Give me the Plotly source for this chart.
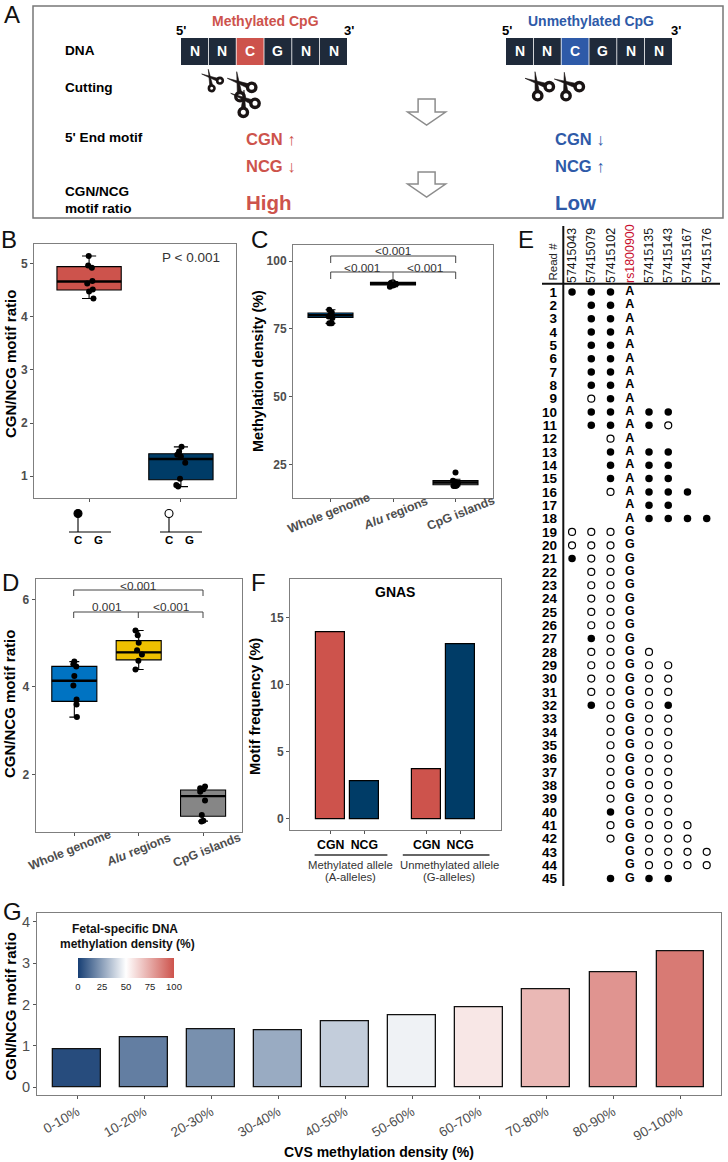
import plotly.graph_objects as go

W, H = 728, 1162
RED, NAVY, BLUE, YEL, GRY = "#CD534C", "#003C67", "#0073C2", "#EFC000", "#868686"
UBLUE = "#2E5AA8"
FONT = "Liberation Sans"
TICK = "#4d4d4d"

# ---- panel B
b_cats = [1, 2]
b_q1 = [4.51, 0.93]; b_med = [4.67, 1.32]; b_q3 = [4.95, 1.42]
b_lo = [4.35, 0.80]; b_hi = [5.15, 1.55]
b_pts_x = [[0.996, 0.99, 1.03, 1.036, 0.98, 1.04, 1.0, 1.047],
           [2.007, 1.98, 1.96, 2.0, 2.047, 1.99, 1.95, 1.97]]
b_pts_y = [[5.15, 4.97, 4.93, 4.68, 4.63, 4.52, 4.48, 4.35],
           [1.55, 1.46, 1.40, 1.37, 1.25, 0.95, 0.83, 0.80]]
# ---- panel C
c_cats = [1, 2, 3]
c_q1 = [79.2, 91.2, 17.5]; c_med = [80.0, 91.7, 18.3]; c_q3 = [80.8, 92.1, 19.0]
c_lo = [77.0, 90.5, 17.0]; c_hi = [82.0, 92.3, 19.5]
c_pts_x = [[0.98, 1.02, 1.0, 0.97, 1.03, 0.98, 1.02, 1.0],
           [1.95, 2.0, 2.02, 2.05, 1.97, 2.0, 1.98, 2.03],
           [3.0, 2.96, 3.0, 3.04, 3.0, 2.97, 3.0, 3.02]]
c_pts_y = [[82.0, 81.0, 80.2, 79.5, 79.0, 77.0, 77.0, 77.0],
           [90.5, 91.0, 91.2, 91.5, 92.0, 92.2, 91.8, 91.4],
           [22.0, 19.0, 18.5, 18.0, 17.5, 17.0, 17.0, 17.2]]
# ---- panel D
d_cats = [1, 2, 3]
d_q1 = [3.67, 4.62, 1.04]; d_med = [4.14, 4.79, 1.50]; d_q3 = [4.47, 5.06, 1.64]
d_lo = [3.31, 4.40, 0.93]; d_hi = [4.58, 5.29, 1.72]
d_pts_x = [[1.0, 0.985, 1.03, 1.0, 0.985, 1.035, 1.035, 1.04],
           [1.95, 1.985, 2.0, 1.975, 2.05, 1.995, 1.95],
           [3.03, 2.955, 3.005, 2.955, 3.03, 2.98, 3.005, 2.975]]
d_pts_y = [[4.58, 4.52, 4.47, 4.25, 4.03, 3.71, 3.60, 3.31],
           [5.29, 5.18, 5.01, 4.84, 4.74, 4.60, 4.40],
           [1.72, 1.68, 1.66, 1.60, 1.40, 1.07, 0.94, 0.92]]
region_labels = ["Whole genome", "<i>Alu</i> regions", "CpG islands"]
# ---- panel E
sites = ["57415043", "57415079", "57415102", '<span style="color:#c8102e">rs1800900</span>',
         "57415135", "57415143", "57415167", "57415176"]
reads = ["111A....", ".11A....", ".11A....", ".11A....", ".11A....", ".11A....",
         ".11A....", ".11A....", ".01A....", ".11A11..", ".11A10..", "..0A....", "..1A11..",
         "..1A11..", "..1A11..", "..0A111.", "...A11..", "...A1111",
         "000G....", "000G....", "100G....", ".00G....", ".00G....", ".00G....", ".00G....",
         ".00G....", ".10G....", ".00G0...", ".00G00..", ".00G00..", ".00G00..", ".10G01..",
         "..0G00..", "..0G00..", "..0G00..", "..0G00..", "..0G00..", "..0G00..", "..0G00..",
         "..1G00..", "..0G000.", "..0G000.", "...G0000", "...G0000", "..1G11.."]
# ---- panel F
f_x = [0.825, 1.175, 1.825, 2.175]
f_vals = [13.9, 2.8, 3.7, 13.0]
f_labels = ["CGN", "NCG", "CGN", "NCG"]
f_cols = [RED, NAVY, RED, NAVY]
# ---- panel G
g_cats = ["0-10%", "10-20%", "20-30%", "30-40%", "40-50%", "50-60%", "60-70%", "70-80%", "80-90%", "90-100%"]
g_vals = [0.92, 1.21, 1.39, 1.37, 1.60, 1.75, 1.93, 2.37, 2.78, 3.28]
g_fetal = [3.4, 16.4, 21, 28, 37, 46.5, 57, 70.6, 81, 88.7]


def X(p): return p / W
def Y(p): return 1 - p / H


shapes, annos, traces = [], [], []


def text(x, y, s, size=12, color="#000", bold=False, anchor="center", angle=0):
    annos.append(dict(x=X(x), y=Y(y), xref="paper", yref="paper", text=s, showarrow=False, xanchor=anchor,
                      yanchor="middle", textangle=angle,
                      font=dict(family=FONT, size=size, color=color, weight="bold" if bold else "normal"),
                      borderpad=0, borderwidth=0))


def line(x0, y0, x1, y1, color="#000", w=1.0):
    shapes.append(dict(type="line", xref="paper", yref="paper", x0=X(x0), y0=Y(y0), x1=X(x1), y1=Y(y1),
                       line=dict(color=color, width=w)))


def rect(x0, y0, x1, y1, fill="#fff", color="#000", w=1.0):
    shapes.append(dict(type="rect", xref="paper", yref="paper", x0=X(x0), y0=Y(y0), x1=X(x1), y1=Y(y1),
                       fillcolor=fill, line=dict(color=color, width=w)))


def circle(cx, cy, r, fill="#fff", color="#000", w=1.0):
    shapes.append(dict(type="circle", xref="paper", yref="paper", x0=X(cx - r), y0=Y(cy - r), x1=X(cx + r),
                       y1=Y(cy + r), fillcolor=fill, line=dict(color=color, width=w)))


def poly(pts, fill="#fff", color="#000", w=1.0):
    d = "M " + " L ".join(f"{X(a):.5f},{Y(b):.5f}" for a, b in pts) + " Z"
    shapes.append(dict(type="path", xref="paper", yref="paper", path=d, fillcolor=fill,
                       line=dict(color=color, width=w)))


def blade(tip, end, half):
    c = "#1a1414"
    dx, dy = end[0] - tip[0], end[1] - tip[1]
    n = (dx * dx + dy * dy) ** 0.5
    ox, oy = -dy / n * half, dx / n * half
    poly([tip, (end[0] + ox, end[1] + oy), (end[0] - ox, end[1] - oy)], c, c, 0.6)


def scissors(tip_a, tip_b, ring_a, ring_b, r=4.2, sw=3.4, half=2.6):
    c = "#1a1414"
    blade(tip_a, ring_b, half)
    blade(tip_b, ring_a, half)
    circle(ring_a[0], ring_a[1], r, "#fff", c, sw)
    circle(ring_b[0], ring_b[1], r, "#fff", c, sw)


def hollow_arrow(cx, y0, ym, y1):
    c = "#8c8c8c"
    poly([(cx - 8.5, y0), (cx + 8.5, y0), (cx + 8.5, ym), (cx + 19, ym), (cx, y1), (cx - 19, ym), (cx - 8.5, ym)],
         "#fff", c, 1.5)


def bracket(x0, x1, y, drop, mid=None, mid_drop=0):
    c = "#444"
    line(x0, y, x1, y, c, 1)
    line(x0, y, x0, y + drop, c, 1)
    line(x1, y, x1, y + drop, c, 1)
    if mid is not None:
        line(mid, y, mid, y + mid_drop, c, 1)


# ---------- Panel A
rect(33, 6, 723, 218, "#fff", "#777", 1.5)
for x0, hi in ((181, RED), (506, UBLUE)):
    for i, ch in enumerate("NNCGNN"):
        cx0 = x0 + i * 27.8
        rect(cx0, 38, cx0 + 27, 65, hi if i == 2 else "#1F2A3A", "rgba(0,0,0,0)", 0)
        text(cx0 + 13.5, 51.5, ch, 14, "#fff", True)
text(265.5, 21, "Methylated CpG", 14, RED, True)
text(591, 21, "Unmethylated CpG", 14, UBLUE, True)
for x, s in ((181, "5'"), (349, "3'"), (507, "5'"), (676, "3'")):
    text(x, 30.5, s, 13, "#000", True)
for y, s in ((51, "DNA"), (88, "Cutting"), (137, "5' End motif"), (191, "CGN/NCG"), (209, "motif ratio")):
    text(64.5, y, s, 13.6, "#000", True, "left")
text(245.5, 139, "CGN ↑", 16.5, RED, True, "left")
text(245.5, 166, "NCG ↓", 16.5, RED, True, "left")
text(245.5, 202, "High", 20.5, RED, True, "left")
text(555, 139, "CGN ↓", 16.5, UBLUE, True, "left")
text(555, 166, "NCG ↑", 16.5, UBLUE, True, "left")
text(555, 202, "Low", 20.5, UBLUE, True, "left")
scissors((208.3, 69.3), (201.7, 74), (220, 80.7), (211.7, 88.3), 2.8, 2.6, 1.7)
scissors((236.7, 71.7), (227.3, 78.3), (251.7, 87.3), (240, 96.7))
scissors((244, 90), (230.7, 93.3), (255, 103.3), (243.3, 112.3))
scissors((535, 71.7), (525, 78.3), (549.3, 86.7), (537.7, 95.7))
scissors((564.3, 72.3), (554.3, 79), (579.3, 86.7), (566, 95.7))
hollow_arrow(426.6, 99, 112, 125)
hollow_arrow(426.6, 172, 184, 197)

# panel letters
for x, y, s in ((12, 14, "A"), (9, 240, "B"), (259, 240, "C"), (10, 582, "D"), (526, 240, "E"), (258, 582, "F"),
                (12, 911, "G")):
    text(x, y, s, 24, "#111")

axis_base = dict(showgrid=False, zeroline=False, showline=True, linecolor="#7f7f7f", linewidth=1, mirror=True,
                 ticks="outside", ticklen=3, tickcolor="#555", tickwidth=1)
ytick = dict(family=FONT, size=12, color=TICK, weight="bold")


def boxes(cats, q1, med, q3, lo, hi, colors, ptsx, ptsy, xa, ya, hw=0.35, ms=6):
    for i, c in enumerate(cats):
        traces.append(go.Box(x=[c], q1=[q1[i]], median=[med[i]], q3=[q3[i]], lowerfence=[lo[i]], upperfence=[hi[i]],
                             width=2 * hw, whiskerwidth=0.22, fillcolor=colors[i], line=dict(color="#000", width=1.1),
                             boxpoints=False, xaxis=xa, yaxis=ya, showlegend=False))
        traces.append(go.Scatter(x=[c - hw, c + hw], y=[med[i], med[i]], mode="lines",
                                 line=dict(color="#000", width=2.4), xaxis=xa, yaxis=ya, showlegend=False))
        traces.append(go.Scatter(x=ptsx[i], y=ptsy[i], mode="markers", marker=dict(color="#000", size=ms),
                                 xaxis=xa, yaxis=ya, showlegend=False))


# ---------- Panel B
boxes(b_cats, b_q1, b_med, b_q3, b_lo, b_hi, [RED, NAVY], b_pts_x, b_pts_y, "x", "y")
text(10, 364, "CGN/NCG motif ratio", 15, "#000", True, angle=-90)
text(191, 257.5, "P &lt; 0.001", 13.5, "#333")
for xl, fill in ((69, "#000"), (160, "#fff")):
    line(xl + 9, 515, xl + 9, 532, "#000", 1.1)
    line(xl, 532, xl + 42, 532, "#000", 1.1)
    circle(xl + 9, 513.5, 4, fill, "#000", 1.1)
    text(xl + 9, 540, "C", 11.5, "#000", True)
    text(xl + 29, 540, "G", 11.5, "#000", True)

# ---------- Panel C
boxes(c_cats, c_q1, c_med, c_q3, c_lo, c_hi, [BLUE, "#333", GRY], c_pts_x, c_pts_y, "x2", "y2", 0.36, 6)
text(257.5, 371.5, "Methylation density (%)", 14.5, "#000", True, angle=-90)
bracket(330.7, 455.7, 256, 7)
bracket(330.7, 455.7, 272, 7, 393, 10)
text(393, 251, "&lt;0.001", 11.8, "#333")
text(362, 268, "&lt;0.001", 11.8, "#333")
text(425, 268, "&lt;0.001", 11.8, "#333")
for x, s in zip((329, 396, 461), region_labels):
    text(x, 513, s, 12.3, TICK, True, angle=-22)

# ---------- Panel D
boxes(d_cats, d_q1, d_med, d_q3, d_lo, d_hi, [BLUE, YEL, GRY], d_pts_x, d_pts_y, "x3", "y3")
text(9.5, 704.5, "CGN/NCG motif ratio", 15, "#000", True, angle=-90)
bracket(73.7, 203, 590, 6)
bracket(73.7, 203, 612, 6, 138.3, 6)
text(138, 586, "&lt;0.001", 11.8, "#333")
text(107, 607, "0.001", 11.8, "#333")
text(171, 607, "&lt;0.001", 11.8, "#333")
for x, s in zip((70, 138, 207), region_labels):
    text(x, 850, s, 12.3, TICK, True, angle=-22)

# ---------- Panel F
traces.append(go.Bar(x=f_x, y=f_vals, width=0.3, marker=dict(color=f_cols, line=dict(color="#000", width=1.2)),
                     xaxis="x4", yaxis="y4", showlegend=False))
text(255, 706, "Motif frequency (%)", 14.8, "#000", True, angle=-90)
text(395.5, 592, "GNAS", 14, "#000", True)
line(314.6, 855, 387.4, 855, "#333", 1.6)
line(402.8, 855, 489.5, 855, "#333", 1.6)
text(350.5, 864.5, "Methylated allele", 11.3, "#333")
text(350.5, 877, "(A-alleles)", 11.3, "#333")
text(449, 864.5, "Unmethylated allele", 11.3, "#333")
text(449, 877, "(G-alleles)", 11.3, "#333")

# ---------- Panel E
fill_x, fill_y, open_x, open_y, txt_x, txt_y, txt_s = [], [], [], [], [], [], []
for r, row in enumerate(reads, start=1):
    for c, ch in enumerate(row):
        if ch == "1":
            fill_x.append(c); fill_y.append(r)
        elif ch == "0":
            open_x.append(c); open_y.append(r)
        elif ch in "AG":
            txt_x.append(c); txt_y.append(r); txt_s.append(ch)
traces.append(go.Scatter(x=fill_x, y=fill_y, mode="markers", marker=dict(color="#000", size=7.5),
                         xaxis="x5", yaxis="y5", showlegend=False))
traces.append(go.Scatter(x=open_x, y=open_y, mode="markers",
                         marker=dict(color="#fff", size=7, line=dict(color="#000", width=1.2)),
                         xaxis="x5", yaxis="y5", showlegend=False))
traces.append(go.Scatter(x=txt_x, y=txt_y, text=txt_s, mode="text",
                         textfont=dict(family=FONT, size=12.5, color="#000", weight="bold"),
                         xaxis="x5", yaxis="y5", showlegend=False))
line(563.3, 226, 563.3, 886, "#111", 2)
line(542, 283.7, 720, 283.7, "#111", 2)
text(552.5, 262, "Read #", 11.5, "#222", angle=-90)

# ---------- Panel G
traces.append(go.Bar(x=list(range(1, 11)), y=g_vals, width=0.71,
                     marker=dict(color=g_fetal, cmin=0, cmax=100, line=dict(color="#111", width=1.3),
                                 colorscale=[[0, "#173F74"], [0.5, "#ffffff"], [1, RED]], showscale=True,
                                 colorbar=dict(orientation="h", x=X(78), xanchor="left", xref="paper", y=Y(989),
                                               yanchor="bottom", yref="paper", len=96, lenmode="pixels", thickness=20,
                                               thicknessmode="pixels", tickvals=[0, 25, 50, 75, 100], ticks="",
                                               outlinewidth=0, ypad=0, xpad=0,
                                               tickfont=dict(family=FONT, size=9.5, color="#222"))),
                     xaxis="x6", yaxis="y6", showlegend=False))
text(9.5, 1007, "CGN/NCG motif ratio", 15, "#000", True, angle=-90)
text(379, 1151.5, "CVS methylation density (%)", 14, "#000", True)
text(125, 929, "Fetal-specific DNA", 12, "#111", True)
text(127, 944, "methylation density (%)", 12, "#111", True)

layout = dict(
    width=W, height=H, autosize=False, margin=dict(l=0, r=0, t=0, b=0), paper_bgcolor="#fff", plot_bgcolor="#fff",
    showlegend=False, bargap=0, shapes=shapes, annotations=annos, font=dict(family=FONT),
    xaxis=dict(axis_base, domain=[X(34), X(236)], range=[0.4, 2.6], tickvals=b_cats, showticklabels=False, anchor="y"),
    yaxis=dict(axis_base, domain=[Y(498), Y(244)], range=[0.585, 5.377], tickvals=[1, 2, 3, 4, 5], tickfont=ytick,
               anchor="x"),
    xaxis2=dict(axis_base, domain=[X(293), X(493)], range=[0.4, 3.6], tickvals=c_cats, showticklabels=False,
                anchor="y2"),
    yaxis2=dict(axis_base, domain=[Y(498), Y(245)], range=[12.6, 105.9], tickvals=[25, 50, 75, 100], tickfont=ytick,
                anchor="x2"),
    xaxis3=dict(axis_base, domain=[X(35.7), X(241.7)], range=[0.4, 3.6], tickvals=d_cats, showticklabels=False,
                anchor="y3"),
    yaxis3=dict(axis_base, domain=[Y(832), Y(579)], range=[0.68, 6.47], tickvals=[2, 4, 6], tickfont=ytick,
                anchor="x3"),
    xaxis4=dict(axis_base, domain=[X(290), X(501)], range=[0.4, 2.6], tickvals=f_x, ticktext=f_labels,
                tickfont=dict(family=FONT, size=12.3, color="#000", weight="bold"), anchor="y4"),
    yaxis4=dict(axis_base, domain=[Y(830), Y(579.3)], range=[-0.82, 17.86], tickvals=[0, 5, 10, 15], tickfont=ytick,
                anchor="x4"),
    xaxis5=dict(domain=[X(563), X(720)], range=[-0.47, 7.69], side="top", tickvals=list(range(8)), ticktext=sites,
                tickangle=-90, ticks="", showgrid=False, zeroline=False, showline=False, anchor="y5",
                tickfont=dict(family=FONT, size=12.4, color="#111")),
    yaxis5=dict(domain=[Y(886), Y(284)], range=[45.56, 0.4], tickvals=list(range(1, 46)), ticks="", showgrid=False,
                zeroline=False, showline=False, anchor="x5", ticklabelstandoff=5,
                tickfont=dict(family=FONT, size=13.5, color="#000", weight="bold")),
    xaxis6=dict(axis_base, domain=[X(37), X(720.5)], range=[0.4, 10.6], tickvals=list(range(1, 11)), ticktext=g_cats,
                tickangle=-30, tickfont=dict(family=FONT, size=13.5, color=TICK), anchor="y6"),
    yaxis6=dict(axis_base, domain=[Y(1095), Y(913.3)], range=[-0.186, 4.2], tickvals=[0, 1, 2, 3, 4],
                tickfont=dict(family=FONT, size=14.5, color=TICK), anchor="x6"),
)
fig = go.Figure(data=traces, layout=layout)
fig.write_html("out.html", config={"displayModeBar": False},
               post_script="document.body.style.margin='0';document.documentElement.style.overflow='hidden';")
